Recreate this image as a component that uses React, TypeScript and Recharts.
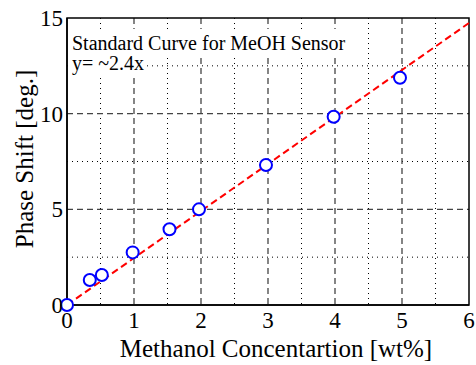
import { ComposedChart, XAxis, YAxis, CartesianGrid, Scatter, Line, ReferenceArea, Label } from "recharts";

// measured points (methanol wt% vs phase shift deg.)
const concentration = [0, 0.34, 0.52, 0.98, 1.53, 1.97, 2.97, 3.98, 4.97];
const phaseShift = [0, 1.31, 1.57, 2.75, 3.96, 5.0, 7.32, 9.84, 11.88];

// fitted line y = ~2.4x
const fitX = [0, 6];
const fitY = [0, 14.74];

const xTicks = [0, 1, 2, 3, 4, 5, 6];
const yTicks = [0, 5, 10, 15];
const xMajor = [1, 2, 3, 4, 5];
const yMajor = [5, 10];
const xMinor = [0.5, 1.5, 2.5, 3.5, 4.5, 5.5];
const yMinor = [2.5, 7.5, 12.5];

const title = "Standard Curve for MeOH Sensor";
const equation = "y= ~2.4x";
const xLabel = "Methanol Concentartion [wt%]";
const yLabel = "Phase Shift [deg.]";

const points = concentration.map((x, i) => ({ x, y: phaseShift[i] }));
const fitLine = fitX.map((x, i) => ({ x, y: fitY[i] }));

const FONT = "'Liberation Serif', 'Times New Roman', serif";

const Marker = (props: any) => (
  <circle cx={props.cx} cy={props.cy} r={6} fill="#fff" stroke="#0000ff" strokeWidth={2} />
);

const Annotation = (props: any) => {
  const vb = props.viewBox;
  if (!vb) return null;
  const x = vb.x;
  const y = vb.y;
  return (
    <g fontFamily={FONT}>
      <rect x={x + 1} y={y + 11} width={278} height={28} fill="#fff" />
      <rect x={x + 1} y={y + 39} width={75} height={20} fill="#fff" />
      <text x={x + 5} y={y + 32} fontSize={20} fill="#000">{title}</text>
      <text x={x + 5} y={y + 52} fontSize={20} fill="#000">{equation}</text>
    </g>
  );
};

export default function App() {
  return (
    <div style={{ position: "absolute", left: 0, top: 0, background: "#fff" }}>
      <ComposedChart
        width={476}
        height={365}
        margin={{ top: 18, right: 7, left: 0, bottom: 0 }}
        style={{ fontFamily: FONT }}
      >
        <CartesianGrid
          horizontalValues={yMinor}
          verticalValues={xMinor}
          stroke="#000"
          strokeWidth={1}
          strokeDasharray="1 4"
        />
        <CartesianGrid
          horizontalValues={yMajor}
          verticalValues={xMajor}
          stroke="#444"
          strokeWidth={1.3}
          strokeDasharray="6 4"
        />
        <XAxis
          dataKey="x"
          type="number"
          domain={[0, 6]}
          ticks={xTicks}
          height={60}
          tickLine={false}
          tickSize={0}
          tickMargin={7}
          axisLine={{ stroke: "#000", strokeWidth: 1.5 }}
          tick={{ fill: "#000", fontSize: 23, fontFamily: FONT }}
        >
          <Label
            content={() => (
              <text x={276} y={357} textAnchor="middle" fontSize={25} fontFamily={FONT} fill="#000">
                {xLabel}
              </text>
            )}
          />
        </XAxis>
        <YAxis
          dataKey="y"
          type="number"
          domain={[0, 15]}
          ticks={yTicks}
          width={67}
          tickLine={false}
          tickSize={0}
          tickMargin={4}
          axisLine={{ stroke: "#000", strokeWidth: 1.5 }}
          tick={{ fill: "#000", fontSize: 23, fontFamily: FONT }}
        >
          <Label
            content={() => (
              <text
                x={33}
                y={159}
                textAnchor="middle"
                fontSize={25}
                fontFamily={FONT}
                fill="#000"
                transform="rotate(-90 33 159)"
              >
                {yLabel}
              </text>
            )}
          />
        </YAxis>
        <ReferenceArea
          x1={0}
          x2={6}
          y1={0}
          y2={15}
          fill="none"
          stroke="#000"
          strokeWidth={1.5}
          label={<Annotation />}
        />
        <Line
          data={fitLine}
          dataKey="y"
          stroke="#ff0000"
          strokeWidth={2}
          strokeDasharray="7 4"
          dot={false}
          activeDot={false}
          isAnimationActive={false}
        />
        <Scatter data={points} dataKey="y" shape={<Marker />} isAnimationActive={false} />
      </ComposedChart>
    </div>
  );
}
